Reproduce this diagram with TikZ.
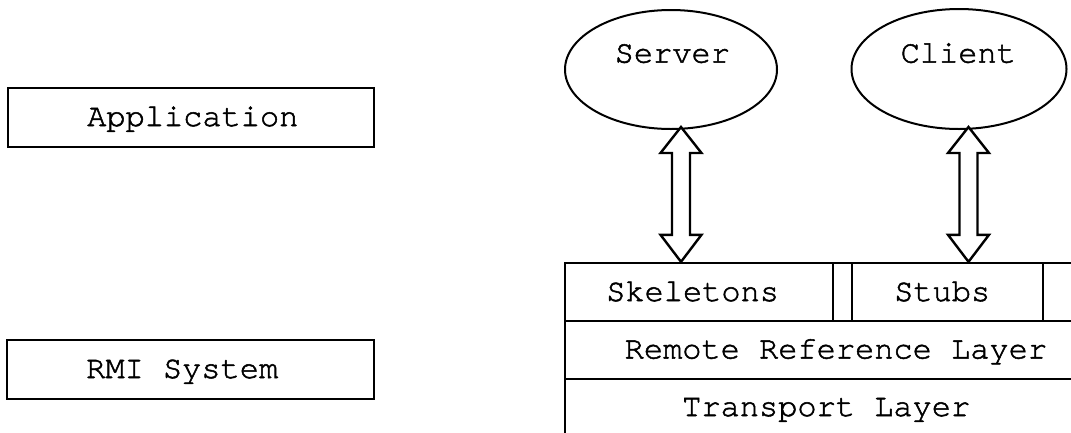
\documentclass[tikz,border=0pt]{standalone}
\usepackage{fontspec}
\newfontfamily\cour[FakeBold=1.6]{TeX Gyre Cursor}
\usetikzlibrary{shapes.geometric,calc}

\tikzset{
  box/.style={draw, line width=2.6pt, rectangle, inner sep=0pt},
  cell/.style={draw, line width=2.4pt, rectangle, inner sep=0pt},
  oval/.style={draw, line width=2pt, ellipse, inner sep=0pt},
  lbl/.style={anchor=base west, inner sep=0pt, font=\cour\fontsize{32}{38}\selectfont},
  fatline/.style={draw, line width=2.4pt, line join=miter, fill=white},
}

% hollow double-headed arrow between two points
\newcommand\fatarrow[2]{%
  \path[fatline] let \p1=(#1), \p2=(#2) in
    (\x1,\y1) -- (\x1+20.5pt,\y1-26pt) -- (\x1+9pt,\y1-26pt)
    -- (\x1+9pt,\y2+27pt) -- (\x1+20.5pt,\y2+27pt) -- (\x1,\y2)
    -- (\x1-20.5pt,\y2+27pt) -- (\x1-9pt,\y2+27pt)
    -- (\x1-9pt,\y1-26pt) -- (\x1-20.5pt,\y1-26pt) -- cycle;}

\begin{document}
\begin{tikzpicture}[x=1pt,y=-1pt]
\useasboundingbox (0,0) rectangle (1071,432);
\clip (0,0) rectangle (1071,432);

% layer names on the left
\node[box, minimum width=366pt, minimum height=59pt] (app) at (191,117.5) {};
\node[lbl] (apptxt) at (87,126) {Application};
\node[box, minimum width=367pt, minimum height=59pt] (rmi) at (190.5,369.5) {};
\node[lbl] (rmitxt) at (86,378) {RMI System};

% server and client programs
\node[oval, minimum width=212pt, minimum height=119pt] (server) at (671,69.5) {};
\node[lbl] (servertxt) at (614.5,62.6) {Server};
\node[oval, minimum width=215pt, minimum height=120pt] (client) at (959,69) {};
\node[lbl] (clienttxt) at (900.5,62.6) {Client};

% RMI layer stack
\node[cell, minimum width=268pt, minimum height=58pt] (skel) at (699,292) {};
\node[cell, minimum width=19pt, minimum height=58pt] (gap) at (842.5,292) {};
\node[cell, minimum width=191pt, minimum height=58pt] (stubs) at (947.5,292) {};
\node[cell, minimum width=100pt, minimum height=58pt] (more) at (1093,292) {};
\node[cell, minimum width=560pt, minimum height=58pt] (rrl) at (845,350) {};
\node[cell, minimum width=560pt, minimum height=100pt] (tl) at (845,429) {};

\node[lbl] (skeltxt) at (606,301) {Skeletons};
\node[lbl] (stubstxt) at (894,301) {Stubs};
\node[lbl] (rrltxt) at (624.5,358.5) {Remote Reference Layer};
\node[lbl] (tltxt) at (682,416) {Transport Layer};

% calls between programs and the stack
\coordinate (sa) at (681,127);
\coordinate (ca) at (968.5,127);
\fatarrow{sa}{sa |- skel.north}
\fatarrow{ca}{ca |- stubs.north}
\end{tikzpicture}
\end{document}
